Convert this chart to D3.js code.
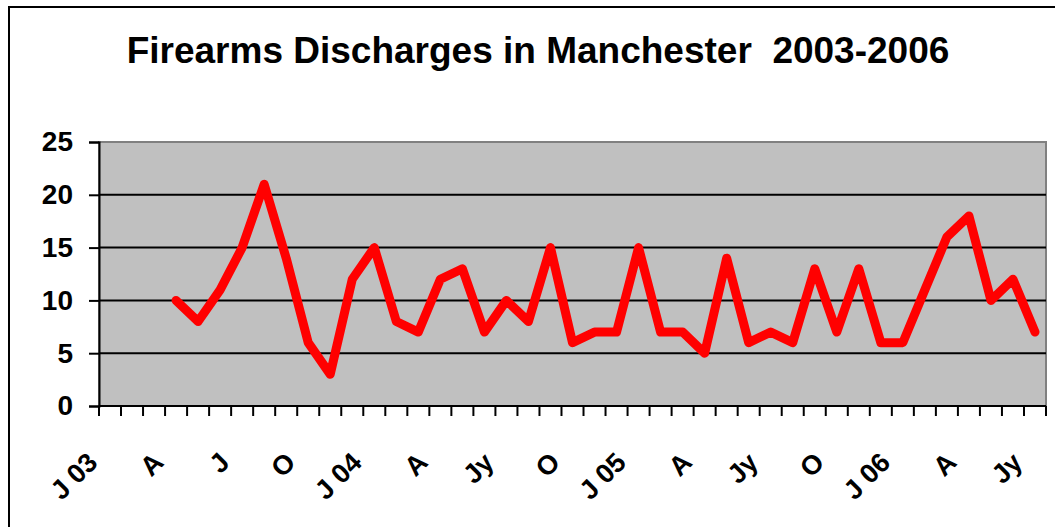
<!DOCTYPE html>
<html>
<head>
<meta charset="utf-8">
<script src="https://cdn.jsdelivr.net/npm/d3@7"></script>
<style>
  body { margin: 0; background: #ffffff; }
  svg { display: block; font-family: "Liberation Sans", Arial, sans-serif; }
</style>
</head>
<body>
<div id="space"></div>
<script>
// Declare constants
const LINE_COLOR = "#ff0000";
const PLOT_COLOR = "#c0c0c0";
const WIDTH = 1055;
const HEIGHT = 527;

// Months from Jan 2003 to Jul 2006, only every third month gets a label
const MONTHS = [
  "J 03", "", "", "A", "", "", "J", "", "", "O", "", "",
  "J 04", "", "", "A", "", "", "Jy", "", "", "O", "", "",
  "J 05", "", "", "A", "", "", "Jy", "", "", "O", "", "",
  "J 06", "", "", "A", "", "", "Jy",
];

// Discharges per month (no data before April 2003)
const DISCHARGES = [
  null, null, null, 10, 8, 11, 15, 21, 14, 6, 3, 12,
  15, 8, 7, 12, 13, 7, 10, 8, 15, 6, 7, 7,
  15, 7, 7, 5, 14, 6, 7, 6, 13, 7, 13, 6,
  6, 11, 16, 18, 10, 12, 7,
];

const Y_TICKS = [0, 5, 10, 15, 20, 25];

// Plot area
var plot = { left: 99, right: 1046, top: 142, bottom: 406 };

var svg = d3
  .select("#space")
  .append("svg")
  .attr("width", WIDTH)
  .attr("height", HEIGHT);

// Outer chart border (runs off the right and bottom edges)
svg
  .append("rect")
  .attr("x", 9)
  .attr("y", 7)
  .attr("width", WIDTH + 20)
  .attr("height", HEIGHT + 20)
  .attr("fill", "#ffffff")
  .attr("stroke", "#000000")
  .attr("stroke-width", 2);

// Title
svg
  .append("text")
  .attr("x", 538)
  .attr("y", 63)
  .attr("text-anchor", "middle")
  .style("font-size", "37px")
  .style("font-weight", "bold")
  .text("Firearms Discharges in Manchester\u00a0\u00a02003-2006");

// Scales
var x = d3
  .scaleBand()
  .domain(d3.range(MONTHS.length))
  .range([plot.left, plot.right]);

var y = d3.scaleLinear().domain([0, 25]).range([plot.bottom, plot.top]);

// Grey plot background with its border
svg
  .append("rect")
  .attr("x", plot.left)
  .attr("y", plot.top)
  .attr("width", plot.right - plot.left)
  .attr("height", plot.bottom - plot.top)
  .attr("fill", PLOT_COLOR)
  .attr("stroke", "#808080")
  .attr("stroke-width", 2);

// Horizontal gridlines
svg
  .selectAll("line.grid")
  .data(Y_TICKS.slice(1, -1))
  .enter()
  .append("line")
  .attr("class", "grid")
  .attr("x1", plot.left)
  .attr("x2", plot.right)
  .attr("y1", (d) => y(d))
  .attr("y2", (d) => y(d))
  .attr("stroke", "#000000")
  .attr("stroke-width", 2);

// Y axis
var yAxis = svg
  .append("g")
  .attr("transform", `translate(${plot.left},0)`)
  .call(d3.axisLeft(y).tickValues(Y_TICKS).tickSize(10).tickPadding(16));

yAxis.select(".domain").attr("stroke", "#000000").attr("stroke-width", 2);
yAxis.selectAll(".tick line").attr("stroke", "#000000").attr("stroke-width", 2);
yAxis
  .selectAll(".tick text")
  .style("font-size", "28px")
  .style("font-weight", "bold")
  .style("font-family", "'Liberation Sans', Arial, sans-serif")
  .attr("fill", "#000000");

// X axis: ticks sit between the months
var xAxis = svg
  .append("g")
  .attr("transform", `translate(0,${plot.bottom})`);

xAxis
  .append("line")
  .attr("x1", plot.left)
  .attr("x2", plot.right)
  .attr("stroke", "#000000")
  .attr("stroke-width", 2);

xAxis
  .selectAll("line.tick")
  .data(d3.range(MONTHS.length + 1))
  .enter()
  .append("line")
  .attr("class", "tick")
  .attr("x1", (d) => plot.left + d * x.step())
  .attr("x2", (d) => plot.left + d * x.step())
  .attr("y1", 0)
  .attr("y2", 10)
  .attr("stroke", "#000000")
  .attr("stroke-width", 2);

// Rotated month labels
xAxis
  .selectAll("text.month")
  .data(MONTHS.map((m, i) => ({ m: m, i: i })).filter((d) => d.m != ""))
  .enter()
  .append("text")
  .attr("class", "month")
  .attr(
    "transform",
    (d) => `translate(${x(d.i) + x.bandwidth() / 2 - 11},58) rotate(-45)`
  )
  .attr("text-anchor", "end")
  .style("font-size", "27px")
  .style("font-weight", "bold")
  .text((d) => d.m);

// Red data line
var line = d3
  .line()
  .defined((d) => d != null)
  .x((d, i) => x(i) + x.bandwidth() / 2)
  .y((d) => y(d));

svg
  .append("path")
  .datum(DISCHARGES)
  .attr("d", line)
  .attr("fill", "none")
  .attr("stroke", LINE_COLOR)
  .attr("stroke-width", 9)
  .attr("stroke-linejoin", "round")
  .attr("stroke-linecap", "round");
</script>
</body>
</html>
